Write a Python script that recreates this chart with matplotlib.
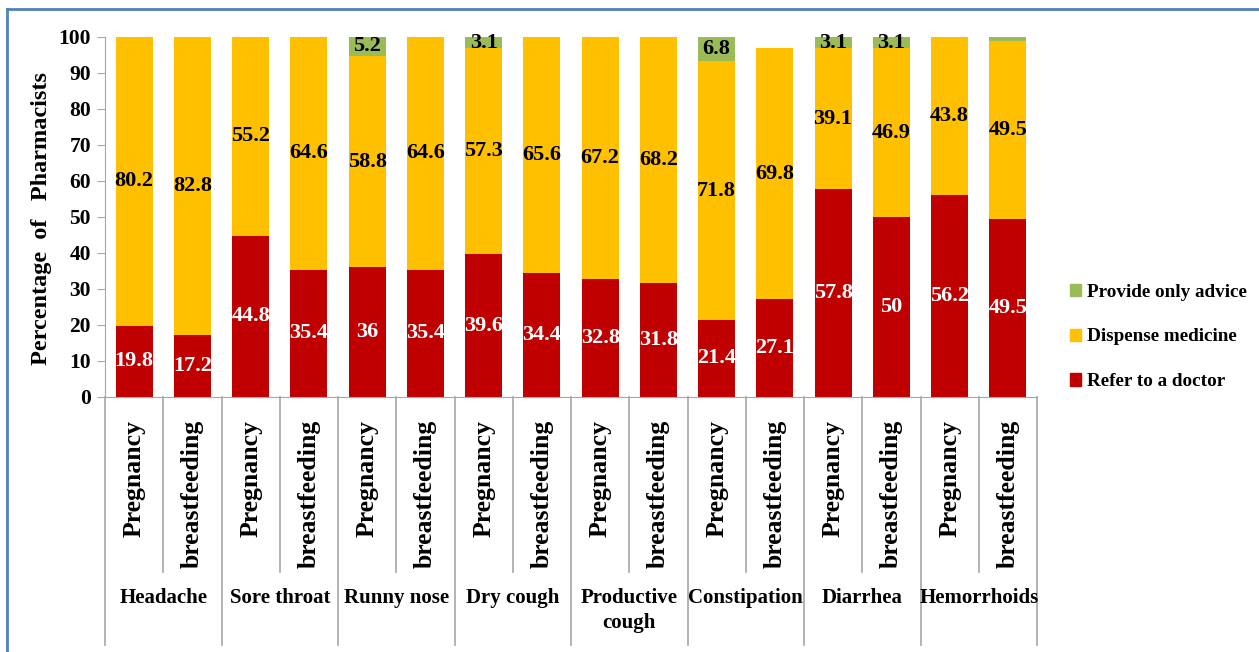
import matplotlib
matplotlib.use('Agg')
from matplotlib import pyplot as plt
from matplotlib.patches import Patch
from matplotlib.lines import Line2D

groups = ['Headache', 'Sore throat', 'Runny nose', 'Dry cough',
          'Productive\ncough', 'Constipation', 'Diarrhea', 'Hemorrhoids']
subgroups = ['Pregnancy', 'breastfeeding']

refer = [19.8, 17.2, 44.8, 35.4, 36, 35.4, 39.6, 34.4,
         32.8, 31.8, 21.4, 27.1, 57.8, 50, 56.2, 49.5]
dispense = [80.2, 82.8, 55.2, 64.6, 58.8, 64.6, 57.3, 65.6,
            67.2, 68.2, 71.8, 69.8, 39.1, 46.9, 43.8, 49.5]
advice = [0, 0, 0, 0, 5.2, 0, 3.1, 0,
          0, 0, 6.8, 0, 3.1, 3.1, 0, 1.0]

red = '#C00000'
yellow = '#FFC000'
green = '#9BBB59'
grey = '#A6A6A6'

plt.rcParams['font.family'] = ['Liberation Serif', 'DejaVu Serif']
plt.rcParams['font.weight'] = 'bold'

fig = plt.figure(figsize=(12.59, 6.52), dpi=100)
ax = fig.add_axes([105/1259, 1-397/652, 932/1259, 360/652])

n = len(refer)
x = list(range(n))
w = 0.635
bottom2 = [r + d for r, d in zip(refer, dispense)]
ax.bar(x, refer, w, color=red, label='Refer to a doctor')
ax.bar(x, dispense, w, bottom=refer, color=yellow, label='Dispense medicine')
ax.bar(x, advice, w, bottom=bottom2, color=green, label='Provide only advice')

for i in range(n):
    ax.text(i, refer[i]/2, f'{refer[i]:g}', ha='center', va='center',
            color='white', fontsize=16, fontweight='bold')
    ax.text(i, refer[i] + dispense[i]/2, f'{dispense[i]:g}', ha='center',
            va='center', color='black', fontsize=16, fontweight='bold')
    if advice[i] >= 3:
        ax.text(i, bottom2[i] + advice[i]/2, f'{advice[i]:g}', ha='center',
                va='center', color='black', fontsize=16, fontweight='bold')

ax.set_xlim(-0.5, n - 0.5)
ax.set_ylim(0, 100)
ax.set_yticks(range(0, 101, 10))
ax.tick_params(axis='y', labelsize=15.5, length=6, color=grey, pad=4)
ax.set_xticks([])
for s in ['top', 'right']:
    ax.spines[s].set_visible(False)
ax.spines['left'].set_color(grey)
ax.spines['bottom'].set_color(grey)

# category axis lines and labels below the plot
tr = ax.get_xaxis_transform()
for k in range(n + 1):
    xb = k - 0.5
    y_end = -0.689 if k % 2 == 0 else -0.486
    ax.add_line(Line2D([xb, xb], [0, y_end], transform=tr, color=grey,
                       lw=1.2, clip_on=False))
for i in range(n):
    ax.text(i, -0.064, subgroups[i % 2], transform=tr, rotation=90,
            ha='center', va='top', fontsize=18.5, fontweight='bold')
for g, name in enumerate(groups):
    ax.text(2*g + 0.5, -0.53, name, transform=tr, ha='center', va='top',
            fontsize=15, fontweight='bold', linespacing=1.35)

fig.text(42/1259, 1-219/652, 'Percentage  of   Pharmacists', rotation=90,
         ha='center', va='center', fontsize=17.5, fontweight='bold')

handles = [Patch(color=green), Patch(color=yellow), Patch(color=red)]
labels = ['Provide only advice', 'Dispense medicine', 'Refer to a doctor']
fig.legend(handles, labels, loc='upper left',
           bbox_to_anchor=(1062/1259, 1-276/652), frameon=False,
           fontsize=13.8, handlelength=0.6, handleheight=0.6,
           handletextpad=0.3, labelspacing=1.45, borderaxespad=0)

# blue frame
fig.add_artist(Line2D([7/1259, 7/1259], [0, 1-9/652], transform=fig.transFigure,
                      color='#4F81BD', lw=2))
fig.add_artist(Line2D([7/1259, 1], [1-9/652, 1-9/652], transform=fig.transFigure,
                      color='#4F81BD', lw=2))

fig.savefig('out.png', dpi=100)
